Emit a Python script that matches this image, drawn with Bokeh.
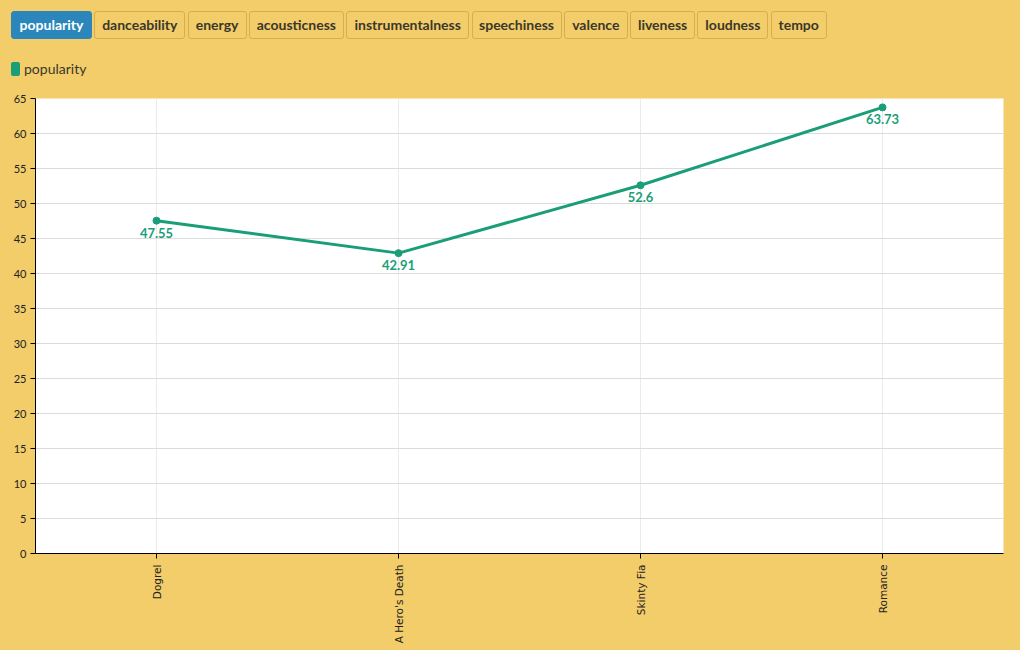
import math
from bokeh.plotting import figure
from bokeh.layouts import column
from bokeh.models import ColumnDataSource, Range1d, FactorRange, FixedTicker, Div
from bokeh.core.properties import value
from bokeh.embed import file_html
from bokeh.resources import INLINE

# ---- data ----
albums = ["Dogrel", "A Hero's Death", "Skinty Fia", "Romance"]
popularity = [47.55, 42.91, 52.6, 63.73]
value_labels = ["47.55", "42.91", "52.6", "63.73"]
features = ["popularity", "danceability", "energy", "acousticness", "instrumentalness",
            "speechiness", "valence", "liveness", "loudness", "tempo"]
legend_label = "popularity"
y_ticks = list(range(0, 70, 5))

# ---- style / layout ----
BG = "#F2CD6A"
GREEN = "#1a9e77"
BLUE = "#2a86bb"
BTN_BORDER = "#d6ae52"
TXT = "#3b372b"
button_widths = [81, 91, 59, 95, 123, 90, 64, 65, 71, 56]
BTN_GAP = 2.3
BTN_X0 = 11
BTN_TOP, BTN_H = 11, 28
HEAD_H = 88

# ---- header (buttons + legend) as HTML ----
parts = []
x = BTN_X0
for i, (name, w) in enumerate(zip(features, button_widths)):
    active = i == 0
    bg = BLUE if active else BG
    bc = BLUE if active else BTN_BORDER
    tc = "#ffffff" if active else TXT
    parts.append(
        f'<div style="position:absolute;left:{x:.1f}px;top:{BTN_TOP}px;width:{w}px;height:{BTN_H}px;'
        f'box-sizing:border-box;border:1px solid {bc};border-radius:3px;background:{bg};'
        f'color:{tc};font-family:Lato;font-weight:bold;font-size:14px;'
        f'display:flex;align-items:center;justify-content:center;">{name}</div>')
    x += w + BTN_GAP
parts.append(
    f'<div style="position:absolute;left:11px;top:62px;width:9px;height:14px;'
    f'border-radius:2px;background:{GREEN};"></div>')
parts.append(
    f'<div style="position:absolute;left:24px;top:60px;height:18px;line-height:18px;'
    f'font-family:Lato;font-size:14px;color:{TXT};">{legend_label}</div>')
html = (f'<div style="position:relative;width:1020px;height:{HEAD_H}px;background:{BG};'
        f'margin:0;padding:0;">' + "".join(parts) + '</div>')
header = Div(text=html, width=1020, height=HEAD_H, margin=(0, 0, 0, 0),
             styles={"background-color": BG})

# ---- chart ----
src = ColumnDataSource(dict(album=albums, pop=popularity, lab=value_labels))
p = figure(x_range=FactorRange(*albums, range_padding=0), y_range=Range1d(0, 65),
           frame_width=968, frame_height=455, output_backend="svg",
           toolbar_location=None, min_border_left=35, min_border_right=17,
           min_border_top=10, min_border_bottom=97, margin=(0, 0, 0, 0))
p.background_fill_color = "#ffffff"
p.border_fill_color = BG
p.outline_line_color = None

p.line(x="album", y="pop", source=src, line_color=GREEN, line_width=3)
p.scatter(x="album", y="pop", source=src, size=7, fill_color=GREEN, line_color=GREEN)
p.text(x="album", y="pop", text="lab", source=src, text_color=GREEN,
       text_font=value("Lato"), text_font_style="bold", text_font_size="13px",
       text_align="center", text_baseline="top", y_offset=7)

p.yaxis.ticker = FixedTicker(ticks=y_ticks)
p.yaxis.minor_tick_line_color = None
for ax in (p.xaxis[0], p.yaxis[0]):
    ax.axis_line_color = "#000000"
    ax.major_tick_line_color = "#000000"
    ax.major_tick_out = 5
    ax.major_tick_in = 0
    ax.major_label_text_color = "#222222"
    ax.major_label_text_font_size = "11px"
    ax.major_label_standoff = 4
p.yaxis.major_label_text_font = "Lato"
p.xaxis.major_label_text_font = "DejaVu Sans"
p.xaxis.major_label_text_font_size = "10.5px"
p.xaxis.major_label_orientation = math.pi / 2
p.xaxis.major_label_standoff = 6
p.xgrid.grid_line_color = "#ebebeb"
p.ygrid.grid_line_color = "#dcdcdc"
p.ygrid.ticker = FixedTicker(ticks=y_ticks)

layout = column(header, p, spacing=0, styles={"background-color": BG})
open("out.html", "w").write(file_html(layout, INLINE))
